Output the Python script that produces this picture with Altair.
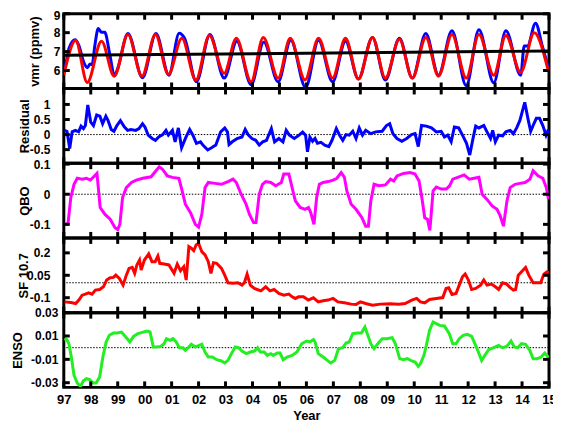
import altair as alt
import pandas as pd

FONT = "Liberation Sans"

# ---------------- data ----------------
year_ticks = list(range(1997, 2016))

vmr_obs_t = [1997.0, 1997.1, 1997.2, 1997.42, 1997.55, 1997.75, 1997.88, 1997.97, 1998.05, 1998.15,
             1998.28, 1998.4, 1998.52, 1998.7, 1998.88, 1999.0, 1999.38, 1999.92, 2000.42, 2000.9,
             2001.28, 2001.48, 2001.92, 2002.42, 2002.95, 2003.42, 2003.95, 2004.42, 2004.95, 2005.42,
             2005.97, 2006.45, 2006.97, 2007.45, 2007.93, 2008.45, 2008.93, 2009.45, 2009.93, 2010.43,
             2010.9, 2011.4, 2011.93, 2012.4, 2012.95, 2013.4, 2013.95, 2014.08, 2014.2, 2014.5,
             2014.75, 2015.0]
vmr_obs_v = [5.9, 6.5, 7.2, 7.62, 7.35, 6.4, 6.15, 6.35, 6.3, 7.3,
             8.22, 8.02, 8.02, 6.9, 5.72, 6.1, 7.95, 5.62, 7.95, 5.75,
             7.97, 7.7, 5.4, 7.9, 5.6, 7.55, 5.25, 7.5, 5.4, 7.6,
             5.1, 7.6, 5.4, 7.55, 5.55, 7.75, 5.5, 7.7, 5.6, 7.95,
             5.75, 8.1, 5.2, 8.15, 5.35, 8.1, 5.75, 7.3, 7.3, 8.5,
             7.3, 6.0]

vmr_fit_t = [1997.0, 1997.44, 1997.87, 1998.4, 1998.87, 1999.38, 1999.9, 2000.4, 2000.88, 2001.38,
             2001.9, 2002.4, 2002.95, 2003.4, 2003.95, 2004.4, 2004.95, 2005.4, 2005.95, 2006.45,
             2006.97, 2007.45, 2007.93, 2008.45, 2008.93, 2009.45, 2009.93, 2010.43, 2010.9, 2011.4,
             2011.93, 2012.4, 2012.95, 2013.4, 2013.95, 2014.45, 2014.97]
vmr_fit_v = [5.75, 7.58, 5.37, 7.55, 5.7, 7.9, 5.7, 7.9, 5.8, 7.7,
             5.5, 7.85, 5.85, 7.7, 5.4, 7.75, 5.6, 7.7, 5.5, 7.7,
             5.6, 7.7, 5.55, 7.75, 5.6, 7.65, 5.6, 7.75, 5.7, 7.9,
             5.6, 7.9, 5.75, 7.85, 5.9, 8.0, 6.0]

trend_t = [1997.0, 2015.0]
trend_v = [6.80, 7.03]

res_t = [1997.03, 1997.12, 1997.22, 1997.31, 1997.43, 1997.55, 1997.64, 1997.73, 1997.8, 1997.89,
         1998.0, 1998.1, 1998.22, 1998.34, 1998.44, 1998.56, 1998.64, 1998.76, 1998.86, 1998.97,
         1999.1, 1999.25, 1999.37, 1999.49, 1999.67, 1999.79, 1999.92, 2000.01, 2000.13, 2000.28,
         2000.4, 2000.52, 2000.67, 2000.79, 2000.88, 2001.03, 2001.13, 2001.25, 2001.37, 2001.52,
         2001.67, 2001.79, 2001.92, 2002.07, 2002.16, 2002.34, 2002.48, 2002.64, 2002.82, 2002.97,
         2003.07, 2003.13, 2003.25, 2003.43, 2003.61, 2003.73, 2003.85, 2003.98, 2004.12, 2004.25,
         2004.38, 2004.52, 2004.7, 2004.82, 2004.98, 2005.13, 2005.25, 2005.37, 2005.55, 2005.73,
         2005.86, 2005.97, 2006.04, 2006.13, 2006.23, 2006.32, 2006.41, 2006.54, 2006.68, 2006.83,
         2006.95, 2007.11, 2007.23, 2007.35, 2007.47, 2007.59, 2007.72, 2007.84, 2007.96, 2008.08,
         2008.2, 2008.39, 2008.57, 2008.81, 2008.97, 2009.09, 2009.21, 2009.36, 2009.54, 2009.72,
         2009.9, 2010.03, 2010.15, 2010.27, 2010.45, 2010.64, 2010.82, 2011.0, 2011.12, 2011.24,
         2011.37, 2011.49, 2011.65, 2011.79, 2011.94, 2012.06, 2012.18, 2012.28, 2012.4, 2012.58,
         2012.7, 2012.83, 2012.91, 2013.01, 2013.13, 2013.28, 2013.4, 2013.56, 2013.68, 2013.8,
         2013.92, 2014.0, 2014.1, 2014.22, 2014.32, 2014.41, 2014.53, 2014.65, 2014.77, 2014.89,
         2014.98]
res_v = [0.14, 0.1, -0.46, 0.09, 0.14, 0.09, 0.28, 0.2, 0.3, 0.98,
         0.41, 0.3, 0.65, 0.61, 0.36, 0.61, 0.47, 0.17, 0.11, 0.3,
         0.46, 0.25, 0.14, 0.17, 0.14, 0.2, 0.36, 0.25, -0.02, -0.13,
         -0.19, -0.08, 0.0, 0.14, -0.02, 0.14, -0.24, 0.22, -0.44, -0.11,
         0.17, -0.02, -0.29, -0.24, -0.35, -0.51, -0.44, -0.35, 0.09, 0.22,
         0.09, -0.33, -0.24, -0.13, -0.08, 0.17, -0.02, -0.13, -0.19, -0.35,
         -0.24, -0.19, 0.2, -0.24, -0.13, -0.24, 0.14, -0.02, -0.13, -0.02,
         0.08, -0.02, -0.57, -0.08, -0.22, -0.13, -0.29, -0.26, -0.35, -0.4,
         -0.19, 0.2, -0.02, -0.19, 0.0, -0.02, 0.11, -0.13, 0.22, -0.02,
         0.14, 0.03, 0.09, 0.11, 0.3, 0.36, 0.03, -0.13, -0.22, -0.13,
         0.0, 0.03, -0.4, 0.3, 0.28, 0.22, 0.09, 0.11, -0.08, -0.02,
         -0.24, 0.25, 0.22, -0.02, -0.29, -0.68, -0.13, 0.28, 0.22, 0.3,
         0.09, -0.13, 0.14, -0.24, -0.02, -0.04, 0.09, 0.14, 0.03, 0.22,
         0.47, 0.74, 1.07, 0.52, 0.11, 0.3, 0.54, 0.54, 0.3, -0.02,
         0.17]

qbo_t = [1997.03, 1997.1, 1997.16, 1997.26, 1997.38, 1997.5, 1997.68, 1997.84, 1997.99, 1998.11,
         1998.23, 1998.35, 1998.53, 1998.72, 1998.9, 1999.0, 1999.08, 1999.18, 1999.32, 1999.51,
         1999.69, 1999.93, 2000.24, 2000.42, 2000.54, 2000.66, 2000.84, 2001.03, 2001.27, 2001.39,
         2001.51, 2001.7, 2001.88, 2002.0, 2002.12, 2002.24, 2002.36, 2002.61, 2002.85, 2003.09,
         2003.28, 2003.4, 2003.58, 2003.76, 2003.89, 2004.04, 2004.13, 2004.25, 2004.37, 2004.49,
         2004.68, 2004.86, 2005.07, 2005.16, 2005.35, 2005.47, 2005.59, 2005.77, 2005.95, 2006.08,
         2006.16, 2006.28, 2006.38, 2006.48, 2006.62, 2006.81, 2006.99, 2007.13, 2007.29, 2007.41,
         2007.5, 2007.66, 2007.84, 2008.06, 2008.2, 2008.3, 2008.39, 2008.51, 2008.69, 2008.93,
         2009.12, 2009.24, 2009.36, 2009.6, 2009.85, 2010.03, 2010.18, 2010.3, 2010.39, 2010.49,
         2010.58, 2010.7, 2010.82, 2011.0, 2011.19, 2011.31, 2011.43, 2011.61, 2011.85, 2012.04,
         2012.22, 2012.4, 2012.52, 2012.7, 2012.89, 2013.07, 2013.19, 2013.31, 2013.44, 2013.56,
         2013.74, 2013.92, 2014.11, 2014.29, 2014.41, 2014.59, 2014.77, 2014.9, 2014.98]
qbo_v = [-0.1, -0.1, -0.094, -0.011, 0.033, 0.053, 0.05, 0.053, 0.047, 0.058,
         0.069, -0.044, -0.067, -0.083, -0.111, -0.117, -0.1, -0.011, 0.022, 0.039,
         0.047, 0.053, 0.058, 0.078, 0.091, 0.083, 0.061, 0.056, 0.053, 0.011,
         -0.033, -0.061, -0.1, -0.109, -0.067, 0.022, 0.039, 0.036, 0.033, 0.042,
         0.05, 0.039, 0.0, -0.033, -0.067, -0.094, -0.094, 0.0, 0.033, 0.042,
         0.039, 0.028, 0.039, 0.067, 0.067, 0.022, -0.022, -0.044, -0.05, -0.044,
         -0.061, -0.1, -0.011, 0.033, 0.039, 0.042, 0.047, 0.053, 0.072, 0.056,
         0.011, -0.033, -0.05, -0.078, -0.106, -0.106, -0.022, 0.033, 0.028, 0.031,
         0.05, 0.044, 0.061, 0.069, 0.072, 0.067, 0.044, -0.022, -0.078, -0.083,
         -0.12, 0.011, 0.024, 0.017, 0.017, 0.028, 0.05, 0.056, 0.064, 0.05,
         0.053, 0.056, 0.0, -0.017, -0.039, -0.05, -0.072, -0.106, -0.022, 0.022,
         0.033, 0.036, 0.039, 0.05, 0.078, 0.061, 0.053, 0.022, -0.017]

sf_t = [1997.03, 1997.26, 1997.44, 1997.56, 1997.68, 1997.8, 1997.92, 1998.05, 1998.17, 1998.33,
        1998.47, 1998.59, 1998.72, 1998.84, 1998.93, 1999.06, 1999.2, 1999.32, 1999.42, 1999.54,
        1999.63, 1999.71, 1999.81, 1999.87, 1999.99, 2000.15, 2000.27, 2000.39, 2000.49, 2000.56,
        2000.72, 2000.9, 2001.09, 2001.21, 2001.33, 2001.45, 2001.54, 2001.64, 2001.73, 2001.82,
        2001.91, 2002.0, 2002.12, 2002.24, 2002.36, 2002.46, 2002.55, 2002.67, 2002.85, 2002.97,
        2003.09, 2003.28, 2003.46, 2003.61, 2003.7, 2003.8, 2003.92, 2004.07, 2004.31, 2004.49,
        2004.65, 2004.8, 2004.98, 2005.16, 2005.35, 2005.47, 2005.59, 2005.71, 2005.89, 2006.07,
        2006.26, 2006.44, 2006.62, 2006.8, 2006.99, 2007.17, 2007.41, 2007.66, 2007.84, 2008.0,
        2008.2, 2008.45, 2008.75, 2009.11, 2009.42, 2009.66, 2009.91, 2010.09, 2010.23, 2010.39,
        2010.57, 2010.82, 2011.06, 2011.18, 2011.28, 2011.4, 2011.55, 2011.67, 2011.79, 2011.89,
        2012.01, 2012.13, 2012.28, 2012.46, 2012.58, 2012.7, 2012.86, 2013.01, 2013.13, 2013.28,
        2013.43, 2013.55, 2013.68, 2013.76, 2013.86, 2013.98, 2014.13, 2014.25, 2014.41, 2014.56,
        2014.69, 2014.81, 2014.93, 2015.0]
sf_v = [-0.128, -0.132, -0.139, -0.116, -0.083, -0.076, -0.067, -0.076, -0.049, -0.045,
        -0.027, 0.018, 0.034, 0.036, 0.051, 0.029, -0.016, 0.051, 0.096, 0.103,
        0.063, 0.119, 0.152, 0.085, 0.152, 0.193, 0.141, 0.141, 0.179, 0.13,
        0.125, 0.119, 0.063, 0.125, 0.081, 0.107, 0.018, 0.242, 0.231, 0.215,
        0.253, 0.264, 0.208, 0.186, 0.141, 0.063, 0.134, 0.13, 0.096, 0.051,
        0.0, -0.004, 0.0, -0.016, 0.0, 0.058, -0.016, -0.038, -0.054, -0.027,
        -0.054, -0.045, -0.072, -0.083, -0.076, -0.094, -0.105, -0.094, -0.094, -0.116,
        -0.101, -0.128, -0.121, -0.116, -0.105, -0.128, -0.134, -0.143, -0.146, -0.128,
        -0.139, -0.15, -0.143, -0.141, -0.143, -0.139, -0.116, -0.105, -0.128, -0.134,
        -0.112, -0.105, -0.099, -0.038, -0.034, -0.078, -0.072, -0.016, 0.04, 0.058,
        0.018, -0.045, -0.038, -0.016, 0.018, -0.016, -0.009, -0.027, -0.045, 0.0,
        -0.009, -0.031, -0.049, -0.045, 0.051, 0.074, 0.103, 0.051, 0.0, 0.0,
        0.0, 0.058, 0.074, 0.067]

enso_t = [1997.02, 1997.11, 1997.19, 1997.28, 1997.38, 1997.5, 1997.62, 1997.72, 1997.84, 1997.96,
          1998.08, 1998.2, 1998.33, 1998.45, 1998.57, 1998.69, 1998.84, 1998.98, 1999.14, 1999.3,
          1999.45, 1999.59, 1999.75, 1999.91, 2000.08, 2000.2, 2000.32, 2000.44, 2000.6, 2000.72,
          2000.81, 2000.94, 2001.05, 2001.17, 2001.29, 2001.42, 2001.51, 2001.64, 2001.73, 2001.88,
          2002.0, 2002.12, 2002.24, 2002.36, 2002.51, 2002.67, 2002.85, 2002.97, 2003.09, 2003.22,
          2003.36, 2003.48, 2003.61, 2003.77, 2003.92, 2004.07, 2004.19, 2004.29, 2004.43, 2004.55,
          2004.68, 2004.77, 2004.92, 2005.02, 2005.14, 2005.28, 2005.47, 2005.65, 2005.83, 2006.01,
          2006.13, 2006.26, 2006.32, 2006.44, 2006.62, 2006.74, 2006.9, 2007.05, 2007.19, 2007.35,
          2007.47, 2007.59, 2007.72, 2007.9, 2008.04, 2008.17, 2008.26, 2008.39, 2008.51, 2008.65,
          2008.81, 2008.99, 2009.18, 2009.3, 2009.46, 2009.6, 2009.75, 2009.91, 2010.03, 2010.15,
          2010.23, 2010.36, 2010.45, 2010.57, 2010.7, 2010.82, 2010.94, 2011.12, 2011.3, 2011.43,
          2011.55, 2011.67, 2011.82, 2011.97, 2012.13, 2012.25, 2012.38, 2012.5, 2012.62, 2012.76,
          2012.95, 2013.13, 2013.28, 2013.43, 2013.59, 2013.71, 2013.84, 2013.98, 2014.13, 2014.29,
          2014.41, 2014.56, 2014.71, 2014.84, 2014.99]
enso_v = [0.0075, 0.0069, 0.0034, -0.008, -0.0237, -0.0303, -0.0331, -0.0286, -0.0266, -0.0274,
          -0.0303, -0.0303, -0.0251, -0.008, 0.0049, 0.0106, 0.0126, 0.0126, 0.0134, 0.0091,
          0.0049, 0.0097, 0.012, 0.0131, 0.0143, 0.0134, 0.0006, 0.0006, 0.0011, 0.0034,
          0.0077, 0.0063, 0.0077, 0.0049, 0.0, 0.0, -0.0023, 0.0006, 0.0029, 0.0006,
          0.0017, 0.0029, -0.0037, -0.008, -0.008, -0.0103, -0.0114, -0.0131, -0.0109, -0.0051,
          0.0006, 0.0, -0.0029, -0.0051, -0.0037, -0.0029, 0.0, -0.0037, -0.0037, -0.0066,
          -0.0051, -0.0066, -0.0046, -0.0046, -0.0103, -0.008, -0.0066, -0.0037, 0.0035, 0.0057,
          0.0049, 0.0069, 0.0049, -0.0051, -0.008, -0.0103, -0.0131, -0.0109, -0.0009, 0.0,
          0.004, 0.0049, 0.012, 0.0126, 0.0126, 0.0177, 0.012, 0.0034, -0.0009, 0.0034,
          0.0077, 0.0077, 0.0086, 0.0034, -0.0094, -0.0103, -0.0094, -0.0114, -0.0123, -0.016,
          -0.0137, -0.0066, 0.002, 0.0149, 0.022, 0.0206, 0.0191, 0.0186, 0.012, 0.0034,
          0.0034, 0.0077, 0.0106, 0.0114, 0.0097, 0.0034, -0.0037, -0.0109, -0.0066, -0.0017,
          0.0, 0.002, 0.0, 0.0011, 0.0057, 0.0006, 0.0, 0.0034, 0.0029, -0.0023,
          -0.0094, -0.0094, -0.008, -0.0046, -0.0086]

# ---------------- layout ----------------
W = 487
H = 75
TICK = 6

xscale = alt.Scale(domain=[1997, 2015], nice=False, zero=False)


def df(t, v):
    return pd.DataFrame({"t": t, "v": v})


def panel(series, ydomain, yticks, ytitle, title_x, label_pad, zero_line, bottom=False, flush_top=False):
    yscale = alt.Scale(domain=ydomain, nice=False, zero=False)
    yaxis_kw = dict(values=yticks, title=ytitle, titleX=title_x, titleY=H / 2, titleAngle=270,
                    titleAlign="center", titleBaseline="middle", labelPadding=label_pad,
                    ticks=False, domain=False, grid=False, labelExpr="toString(datum.value)",
                    labelOverlap=False, labelFlush=flush_top)
    if flush_top:
        yaxis_kw["labelFlushOffset"] = 3
    yaxis = alt.Axis(**yaxis_kw)
    if bottom:
        xaxis = alt.Axis(values=year_ticks, labelExpr="slice(toString(datum.value), 2)", title="Year",
                         labelFlush=False, labelPadding=6, ticks=False, domain=False, grid=False,
                         titlePadding=3, labelOverlap=False)
    else:
        xaxis = None

    # every layer carries the same axis definition so the shared axis is not disabled
    def X():
        return alt.X("t:Q", scale=xscale, axis=xaxis)

    def Y():
        return alt.Y("v:Q", scale=yscale, axis=yaxis)

    layers = []
    if zero_line:
        layers.append(alt.Chart(pd.DataFrame({"v": [0.0]})).mark_rule(
            color="black", strokeWidth=1, strokeDash=[1.5, 1.5]).encode(y=Y()))
    for (t, v, color, interp, sw) in series:
        layers.append(alt.Chart(df(t, v)).mark_line(
            color=color, strokeWidth=sw, interpolate=interp, clip=True).encode(x=X(), y=Y()))

    xt = pd.DataFrame({"t": year_ticks})
    yt = pd.DataFrame({"v": yticks})
    layers.append(alt.Chart(xt).mark_rule(color="black", strokeWidth=3).encode(
        x=X(), y=alt.value(0), y2=alt.value(TICK)))
    layers.append(alt.Chart(xt).mark_rule(color="black", strokeWidth=3).encode(
        x=X(), y=alt.value(H - TICK), y2=alt.value(H)))
    layers.append(alt.Chart(yt).mark_rule(color="black", strokeWidth=3).encode(
        y=Y(), x=alt.value(0), x2=alt.value(TICK)))
    layers.append(alt.Chart(yt).mark_rule(color="black", strokeWidth=3).encode(
        y=Y(), x=alt.value(W - TICK), x2=alt.value(W)))
    return alt.layer(*layers).properties(width=W, height=H)


p1 = panel([(vmr_obs_t, vmr_obs_v, "#0000ff", "monotone", 3),
            (vmr_fit_t, vmr_fit_v, "#ff0000", "monotone", 3),
            (trend_t, trend_v, "#000000", "linear", 3)],
           [5.05, 9.0], [6, 7, 8, 9], "vmr (ppmv)", -29, 4, False, flush_top=True)
p2 = panel([(res_t, res_v, "#0000ff", "linear", 3)],
           [-0.95, 1.53], [-0.5, 0, 0.5, 1], "Residual", -39, 14, True)
p3 = panel([(qbo_t, qbo_v, "#ff00ff", "linear", 3)],
           [-0.145, 0.103], [-0.1, 0, 0.1], "QBO", -39, 14, True)
p4 = panel([(sf_t, sf_v, "#ff0000", "linear", 3)],
           [-0.2, 0.3], [-0.1, 0.05, 0.2], "SF 10.7", -40, 14, True)
p5 = panel([(enso_t, enso_v, "#22ee22", "linear", 3)],
           [-0.034, 0.03], [-0.03, -0.01, 0.01, 0.03], "ENSO", -46, 6, True, bottom=True)

chart = alt.vconcat(p1, p2, p3, p4, p5, spacing=0, bounds="flush").properties(
    padding={"left": 2, "top": -1, "right": -5, "bottom": 0}
).configure_view(
    stroke="black", strokeWidth=3
).configure_axis(
    labelFont=FONT, labelFontWeight="bold", labelFontSize=12, labelColor="black",
    titleFont=FONT, titleFontWeight="bold", titleFontSize=13, titleColor="black"
).configure_axisX(labelFontSize=13)

chart.save("out.html", embed_options={"renderer": "svg", "actions": False})
